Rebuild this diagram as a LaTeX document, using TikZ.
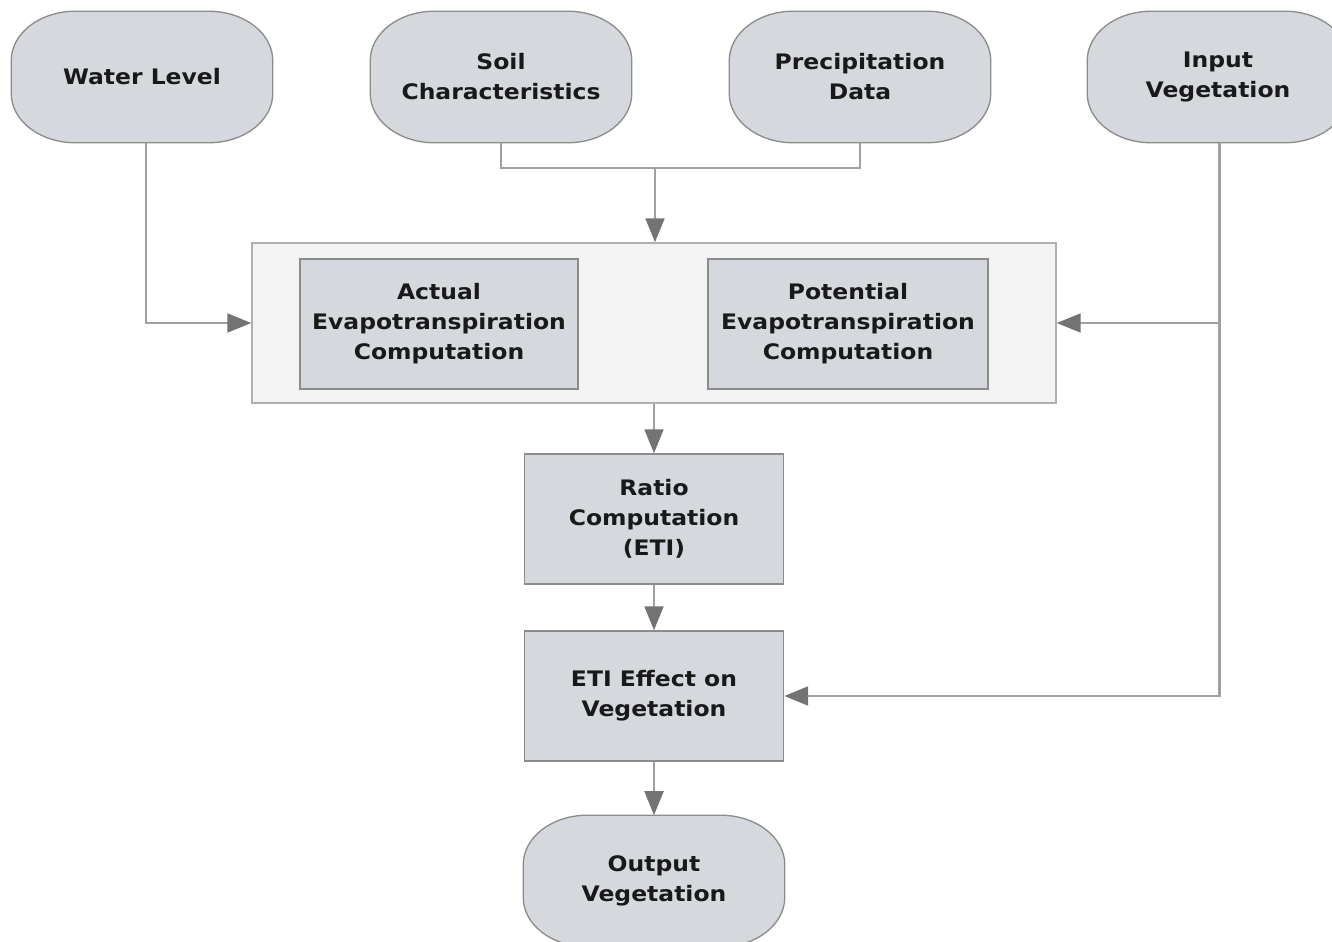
\documentclass[tikz,border=0pt]{standalone}
\usepackage{fontspec}
\setmainfont[FakeStretch=1.1]{DejaVu Sans}
\usetikzlibrary{arrows.meta}
\pgfdeclarelayer{background}
\pgfsetlayers{background,main}
\definecolor{nodefill}{RGB}{213,217,222}
\definecolor{nodeline}{RGB}{140,140,140}
\definecolor{groupfill}{RGB}{243,243,243}
\definecolor{groupline}{RGB}{175,175,175}
\definecolor{wire}{RGB}{160,160,160}
\definecolor{tip}{RGB}{115,115,115}
\definecolor{ink}{RGB}{25,25,25}
\tikzset{
  label font/.style={font=\fontsize{16}{22.5}\selectfont\bfseries, text=ink, align=center},
  terminal/.style={label font, minimum width=195.75pt, minimum height=98.25pt, inner sep=0pt},
  outline/.style={draw=nodeline, line width=1pt, fill=nodefill},
  process/.style={label font, outline, minimum width=194.25pt, minimum height=97.5pt, inner sep=0pt},
  group/.style={draw=groupline, line width=1pt, fill=groupfill,
    minimum width=603pt, minimum height=120pt, inner sep=0pt},
  wiring/.style={draw=wire, line width=2.2pt},
  flow/.style={wiring, -{Triangle[length=18pt, width=14pt, fill=tip, color=tip]}}
}
% terminal outline: a rectangle with elliptical corners, drawn behind the named node
\newcommand\terminalshape[1]{%
  \begin{pgfonlayer}{background}
  \path[outline]
    ([xshift=48pt]#1.north west) -- ([xshift=-48pt]#1.north east)
    arc[start angle=90, end angle=0, x radius=48pt, y radius=37pt]
    -- ([yshift=37pt]#1.south east)
    arc[start angle=0, end angle=-90, x radius=48pt, y radius=37pt]
    -- ([xshift=48pt]#1.south west)
    arc[start angle=270, end angle=180, x radius=48pt, y radius=37pt]
    -- ([yshift=-37pt]#1.north west)
    arc[start angle=180, end angle=90, x radius=48pt, y radius=37pt]
    -- cycle;
  \end{pgfonlayer}}
\begin{document}
\begin{tikzpicture}[x=0.75pt, y=-0.75pt]
\useasboundingbox (0,0) rectangle (1332,942);
\clip (0,0) rectangle (1332,942);
\begin{pgfonlayer}{background}
\fill[white] (0,0) rectangle (1332,942);
\end{pgfonlayer}

% source terminals
\node[terminal] (water)  at (142,77)  {Water Level};
\node[terminal] (soil)   at (501,77)  {Soil\\Characteristics};
\node[terminal] (precip) at (860,77)  {Precipitation\\Data};
\node[terminal] (veg)    at (1218,77) {Input\\Vegetation};
\terminalshape{water}
\terminalshape{soil}
\terminalshape{precip}
\terminalshape{veg}

% evapotranspiration group
\node[group] (grp) at (654,323) {};
\node[process, minimum width=208.5pt] (aet) at (439,324) {Actual\\Evapotranspiration\\Computation};
\node[process, minimum width=210pt]   (pet) at (848,324) {Potential\\Evapotranspiration\\Computation};

% processing chain
\node[process] (ratio) at (654,519) {Ratio\\Computation\\(ETI)};
\node[process] (eti)   at (654,696) {ETI Effect on\\Vegetation};
\node[terminal] (out)  at (654,881) {Output\\Vegetation};
\terminalshape{out}

% connectors
\draw[flow] ([xshift=3]water.south) |- (grp.west);
\coordinate (merge) at (655,168);
\draw[wiring] (soil.south) |- (merge) -| (precip.south);
\draw[flow] (merge) -- (merge |- grp.north);
\draw[flow] ([xshift=1]veg.south) |- (grp.east);
\draw[flow] ([xshift=1]veg.south) |- (eti.east);
\draw[flow] (grp.south) -- (ratio.north);
\draw[flow] (ratio.south) -- (eti.north);
\draw[flow] (eti.south) -- (out.north);
\end{tikzpicture}
\end{document}
